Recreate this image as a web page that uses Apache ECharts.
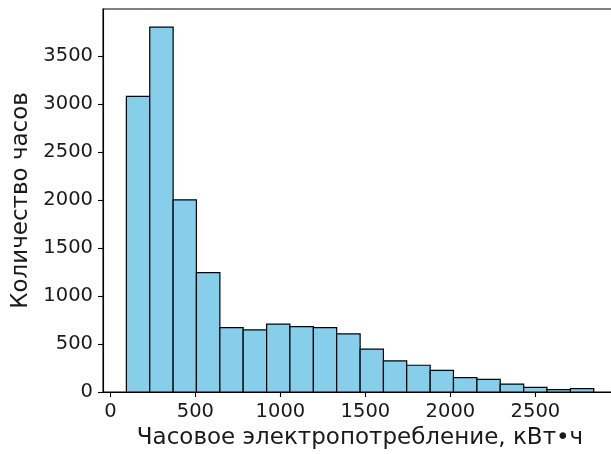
<!DOCTYPE html>
<html>
<head>
<meta charset="utf-8">
<script src="https://cdn.jsdelivr.net/npm/echarts@6/dist/echarts.min.js"></script>
<style>html,body{margin:0;padding:0;background:#fff}#c{width:611px;height:454px}</style>
</head>
<body>
<div id="c"></div>
<script>
const binEdges = [94, 231.5, 369, 506, 644, 781, 919, 1056, 1194, 1331, 1469, 1606, 1743, 1881, 2018, 2156, 2293, 2431, 2568, 2706, 2843];
const counts = [3082, 3803, 2004, 1245, 671, 647, 707, 682, 671, 605, 446, 324, 279, 226, 150, 132, 83, 49, 24, 35];
const xTicks = [0, 500, 1000, 1500, 2000, 2500];
const yTicks = [0, 500, 1000, 1500, 2000, 2500, 3000, 3500];
const xLabel = 'Часовое электропотребление, кВт•ч';
const yLabel = 'Количество часов';

const data = counts.map((c, i) => [binEdges[i], binEdges[i + 1], c]);

const chart = echarts.init(document.getElementById('c'), null, {renderer: 'canvas'});
const font = 'DejaVu Sans';
const plain = v => String(v);
chart.setOption({
  animation: false,
  grid: {left: 103, top: 9, bottom: 62, right: -6, show: true, borderColor: '#000', borderWidth: 1.1, backgroundColor: 'transparent', outerBoundsMode: 'none', containLabel: false},
  xAxis: {
    type: 'value', min: -43.5, max: 2980,
    name: xLabel, nameLocation: 'middle', nameGap: 32,
    nameTextStyle: {fontFamily: font, fontSize: 23, color: '#1a1a1a'},
    axisLine: {show: true, onZero: false, lineStyle: {color: '#000', width: 1.1}},
    axisTick: {show: true, length: 5, lineStyle: {color: '#000', width: 1.1}, customValues: xTicks},
    axisLabel: {fontFamily: font, fontSize: 19.5, color: '#1a1a1a', margin: 10, customValues: xTicks, formatter: plain},
    splitLine: {show: false}
  },
  yAxis: {
    type: 'value', min: 0, max: 3993,
    name: yLabel, nameLocation: 'middle', nameGap: 52,
    nameTextStyle: {fontFamily: font, fontSize: 23, color: '#1a1a1a'},
    axisLine: {show: true, onZero: false, lineStyle: {color: '#000', width: 1.1}},
    axisTick: {show: true, length: 5, lineStyle: {color: '#000', width: 1.1}, customValues: yTicks},
    axisLabel: {fontFamily: font, fontSize: 19.5, color: '#1a1a1a', margin: 10, customValues: yTicks, formatter: plain},
    splitLine: {show: false}
  },
  series: [{
    type: 'custom',
    data: data,
    encode: {x: [0, 1], y: 2},
    clip: false,
    renderItem: function (params, api) {
      const p0 = api.coord([api.value(0), 0]);
      const p1 = api.coord([api.value(1), api.value(2)]);
      return {
        type: 'rect',
        shape: {x: p0[0], y: p1[1], width: p1[0] - p0[0], height: p0[1] - p1[1]},
        style: {fill: '#87CEEB', stroke: '#000', lineWidth: 1.2}
      };
    }
  }]
});
</script>
</body>
</html>
